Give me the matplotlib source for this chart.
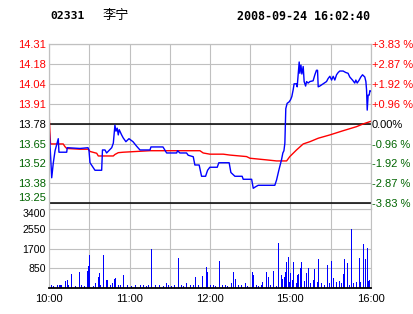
import matplotlib
matplotlib.use("Agg")
import matplotlib.pyplot as plt

# stock 02331 intraday, 2008-09-24 (HK session 10:00-12:30, 14:30-16:00 -> 240 trading minutes)
prev_close = 13.78
price_min = [0, 1.8, 3, 4.3, 5.5, 6.7, 7.2, 13, 13.4, 22.9, 28.9, 29.6, 30.4, 34.1, 39.1, 39.7,
             41.6, 42.8, 46.6, 47.8, 49, 49.8, 50.7, 51.5, 52.2, 54, 55.2, 57.2, 59.5, 62.5, 65.2,
             67.7, 75.2, 75.9, 84.9, 87.6, 95.1, 95.8, 97.5, 102.5, 103.7, 107.5, 108.7, 111.9,
             113.7, 116.7, 118.2, 119.9, 125.4, 126.6, 134.3, 135.6, 138.6, 144, 144.8, 151.1,
             152.3, 154, 156, 168.4, 169.7, 171.4, 173.4, 174.4, 175.2, 175.9, 176.6, 177.6,
             179.1, 180.2, 181.1, 182.1, 182.8, 184.6, 185.1, 186.6, 187.1, 187.9, 188.6, 189.6,
             190.3, 191.4, 192.1, 193.3, 194.6, 197, 198.3, 199.5, 200.3, 200.8, 202, 204.5, 207,
             208.2, 209.5, 210.8, 212, 213.2, 214.5, 215.7, 216.9, 219.4, 221.4, 223.1, 224.4,
             226.4, 228.1, 228.9, 229.9, 231.4, 232.6, 233.9, 235.6, 236.4, 236.9, 237.4, 238.1,
             238.9, 239.4, 240]
price_val = [13.73, 13.42, 13.52, 13.60, 13.64, 13.68, 13.59, 13.59, 13.62, 13.615, 13.62, 13.605,
             13.52, 13.47, 13.47, 13.605, 13.605, 13.585, 13.62, 13.65, 13.77, 13.73, 13.75,
             13.705, 13.74, 13.705, 13.685, 13.66, 13.68, 13.66, 13.63, 13.605, 13.605, 13.625,
             13.625, 13.585, 13.585, 13.60, 13.585, 13.585, 13.57, 13.56, 13.505, 13.505, 13.43,
             13.43, 13.47, 13.49, 13.49, 13.52, 13.52, 13.455, 13.43, 13.43, 13.41, 13.41, 13.35,
             13.36, 13.37, 13.37, 13.405, 13.47, 13.54, 13.585, 13.60, 13.65, 13.88, 13.915,
             13.925, 13.94, 13.96, 14.005, 14.045, 14.045, 14.025, 14.19, 14.115, 14.17, 14.11,
             14.16, 14.06, 14.03, 14.06, 14.05, 14.06, 14.065, 14.105, 14.135, 14.135, 14.025,
             14.03, 14.045, 14.06, 14.08, 14.095, 14.07, 14.095, 14.07, 14.105, 14.12, 14.13,
             14.13, 14.12, 14.115, 14.09, 14.07, 14.05, 14.07, 14.05, 14.07, 14.09, 14.105, 14.09,
             14.06, 14.005, 13.87, 13.97, 13.97, 14.0, 13.995]

avg_min = [0, 0.9, 10.4, 11.7, 13, 22.9, 29.1, 30.4, 35.4, 36.6, 47.8, 49, 51.5, 55.2, 75.2,
           112.5, 114.9, 119.9, 129.9, 134.9, 142.3, 147.3, 149.8, 162.2, 169.7, 177.2, 179.6,
           184.6, 189.6, 194.6, 200.8, 209.5, 219.4, 229.4, 234.3, 239.3, 240]
avg_val = [13.815, 13.645, 13.645, 13.627, 13.615, 13.61, 13.61, 13.595, 13.583, 13.565, 13.565,
           13.575, 13.587, 13.59, 13.60, 13.60, 13.585, 13.577, 13.577, 13.571, 13.565, 13.561,
           13.55, 13.539, 13.532, 13.532, 13.561, 13.605, 13.645, 13.66, 13.683, 13.705, 13.733,
           13.76, 13.778, 13.793, 13.795]

vol_min = [0, 1, 3, 6, 7, 8, 9, 12, 13, 14, 16, 19, 22, 24, 26, 28, 29, 30, 33, 34, 36, 37, 38,
           40, 42, 43, 45, 47, 48, 49, 51, 53, 55, 58, 61, 64, 68, 70, 72, 74, 76, 79, 82, 85, 87,
           89, 91, 93, 96, 98, 100, 102, 105, 107, 109, 111, 114, 117, 118, 120, 122, 124, 127,
           129, 131, 133, 136, 137, 139, 141, 143, 146, 148, 151, 152, 154, 156, 158, 159, 162,
           163, 165, 167, 169, 171, 173, 174, 175, 176, 177, 178, 179, 180, 181, 182, 184, 185,
           186, 187, 188, 190, 192, 193, 195, 197, 198, 200, 201, 203, 205, 207, 209, 210, 212,
           214, 216, 218, 219, 220, 222, 224, 225, 227, 229, 231, 232, 234, 236, 237, 238, 239, 240]
vol_val = [3350, 130, 90, 130, 130, 130, 130, 300, 345, 120, 600, 90, 690, 110, 100, 750, 950,
           1425, 100, 200, 460, 630, 150, 1425, 345, 345, 120, 200, 400, 430, 150, 110, 560, 120,
           100, 130, 110, 120, 100, 140, 1685, 110, 120, 100, 230, 120, 100, 140, 1300, 120, 100,
           230, 130, 110, 490, 120, 530, 920, 700, 150, 120, 100, 1180, 120, 110, 100, 230, 700,
           375, 120, 110, 230, 100, 700, 560, 110, 100, 140, 270, 700, 490, 120, 750, 100, 1960,
           560, 375, 490, 700, 1140, 1325, 250, 630, 350, 1140, 200, 560, 600, 850, 1140, 300,
           630, 850, 200, 345, 800, 250, 1240, 200, 150, 1000, 200, 1170, 420, 250, 300, 200, 590,
           1240, 1070, 150, 2535, 200, 250, 1280, 250, 1900, 1240, 1710, 300, 345, 460]

step_pct = [3.83, 2.87, 1.92, 0.96, 0.00, -0.96, -1.92, -2.87, -3.83]
left_labels = ["14.31", "14.18", "14.04", "13.91", "13.78", "13.65", "13.52", "13.38", "13.25"]
right_labels = ["+3.83 %", "+2.87 %", "+1.92 %", "+0.96 %", "0.00%",
                "-0.96 %", "-1.92 %", "-2.87 %", "-3.83 %"]
vol_ticks = [850, 1700, 2550, 3400]
time_ticks = [0, 60, 120, 180, 240]
time_labels = ["10:00", "11:00", "12:00", "15:00", "16:00"]

plt.rcParams['font.family'] = ['Liberation Sans', 'DejaVu Sans']
GRID = '#c0c0c0'
RED = '#ff0000'
GREEN = '#006400'
BLUE = '#0000ff'

W, H = 414, 314
fig = plt.figure(figsize=(W / 100, H / 100), dpi=100)


def box(l, t, r, b):
    return [l / W, 1 - b / H, (r - l) / W, (b - t) / H]


ax = fig.add_axes(box(49.3, 44.3, 370.7, 209.3))
axv = fig.add_axes(box(49.3, 209.3, 370.7, 288))

levels = [prev_close * (1 + p / 100) for p in step_pct]
hi, lo = levels[0], levels[-1]
gap = (hi - lo) * 6.3 / 158.7
ax.set_ylim(lo - gap, hi)
ax.set_xlim(0, 240)
ax.set_xticks(range(0, 241, 30))
ax.set_xticklabels([])
ax.set_yticks(levels)
ax.set_yticklabels(left_labels)
ax.grid(True, color=GRID, lw=0.8)
ax.set_axisbelow(True)
ax.axhline(prev_close, color='black', lw=1.1)
ax.axhline(lo, color='black', lw=1.1)
ax.plot(avg_min, avg_val, color=RED, lw=1.0)
ax.plot(price_min, price_val, color=BLUE, lw=1.0)
ax.tick_params(length=0, pad=2.5, labelsize=8)
colors = [RED] * 4 + ['black'] + [GREEN] * 4
for t, c in zip(ax.get_yticklabels(), colors):
    t.set_color(c)
ax.get_yticklabels()[-1].set_verticalalignment('bottom')

ax2 = ax.twinx()
ax2.set_ylim(ax.get_ylim())
ax2.set_yticks(levels)
ax2.set_yticklabels(right_labels)
ax2.tick_params(length=0, pad=1, labelsize=8)
for t, c in zip(ax2.get_yticklabels(), colors):
    t.set_color(c)

for a in (ax, ax2):
    for s in a.spines.values():
        s.set_color(GRID)
        s.set_linewidth(0.8)
    a.spines['bottom'].set_visible(False)

axv.vlines(vol_min, 0, vol_val, color=BLUE, lw=0.6, antialiased=False)
axv.set_xlim(0, 240)
axv.set_ylim(0, 3400)
axv.set_xticks(range(0, 241, 30))
axv.set_xticklabels(["" if m not in time_ticks else time_labels[time_ticks.index(m)]
                     for m in range(0, 241, 30)])
axv.set_yticks(vol_ticks)
axv.set_yticklabels([str(v) for v in vol_ticks])
axv.grid(True, color=GRID, lw=0.8)
axv.set_axisbelow(True)
axv.tick_params(length=0, pad=2.5, labelsize=7.6)
axv.tick_params(axis='x', pad=4, labelsize=8)
axv.get_yticklabels()[-1].set_verticalalignment('top')
for s in axv.spines.values():
    s.set_color(GRID)
    s.set_linewidth(0.8)
axv.spines['bottom'].set_color('black')
axv.spines['bottom'].set_linewidth(1.3)

fig.text(50 / W, 1 - 16 / H, "02331", family='DejaVu Sans Mono', weight='bold', size=8.2,
         va='center')
fig.text(103 / W, 1 - 16 / H, "李宁", family=['Noto Sans CJK SC', 'DejaVu Sans'], size=9.5,
         va='center')
fig.text(237 / W, 1 - 16 / H, "2008-09-24 16:02:40", family='DejaVu Sans Mono', weight='bold',
         size=8.4, va='center')

fig.savefig("out.png", dpi=100)
